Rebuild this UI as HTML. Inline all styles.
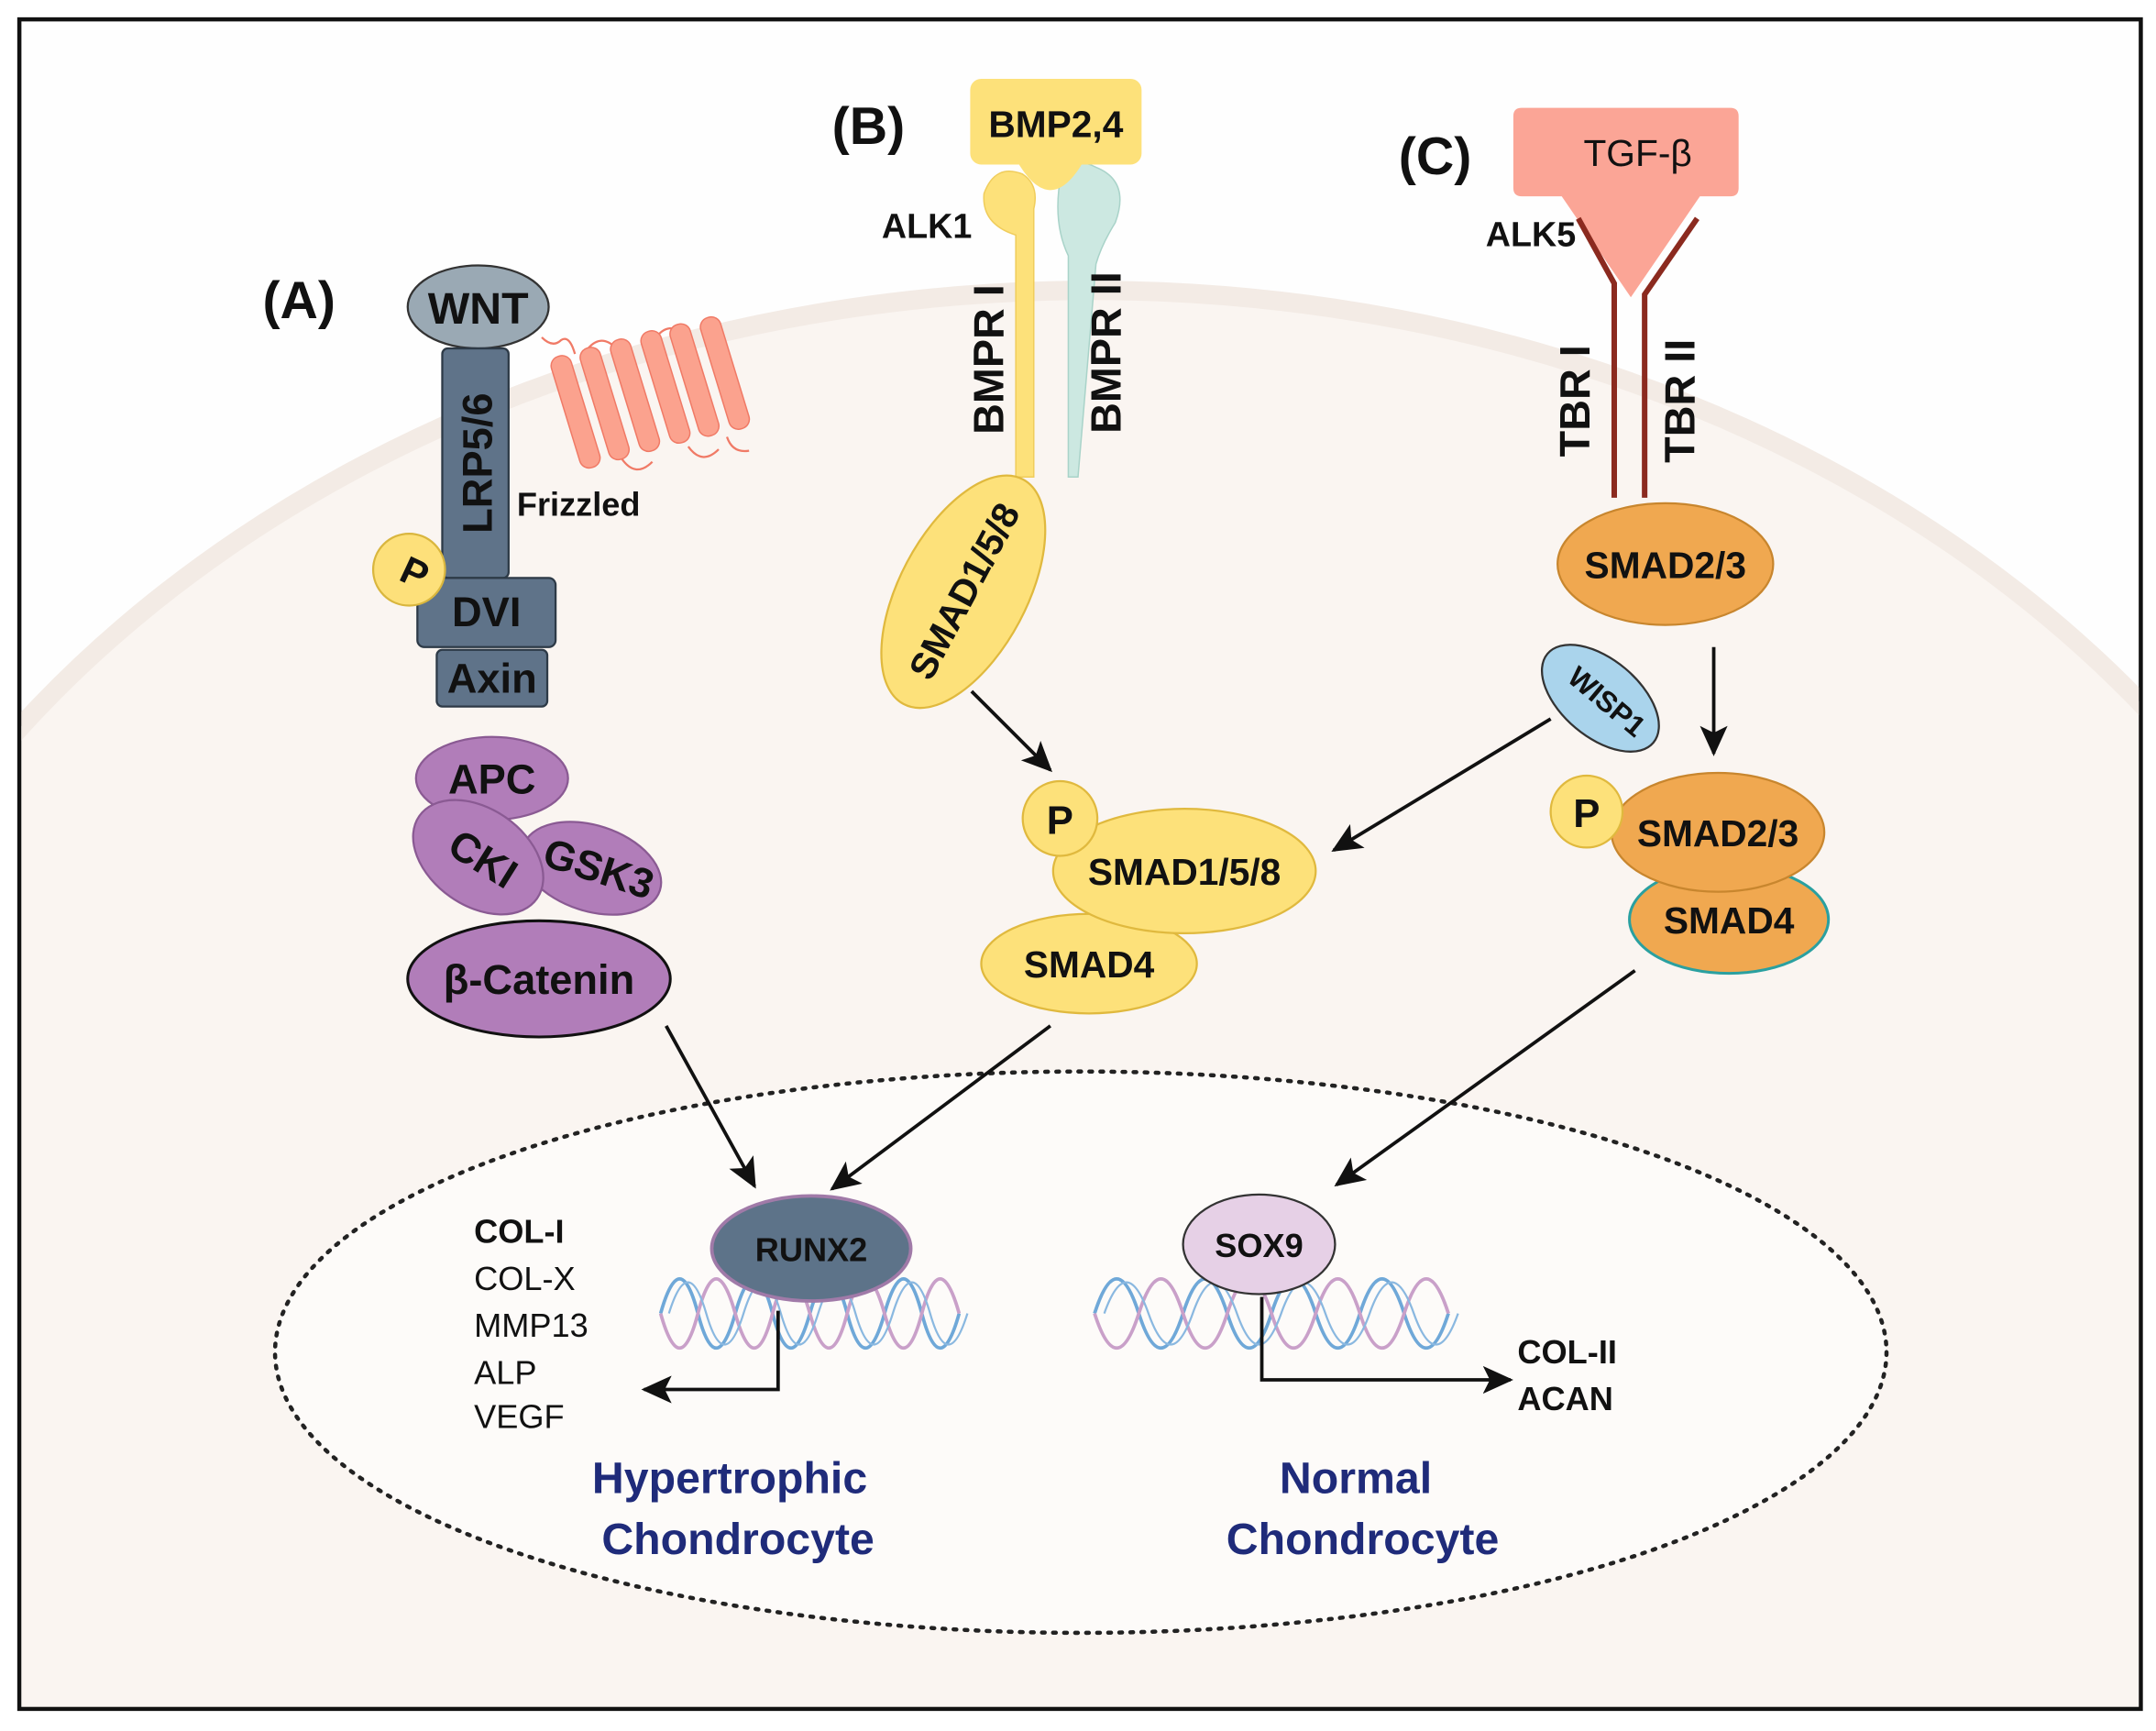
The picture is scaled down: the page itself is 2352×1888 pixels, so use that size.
<!DOCTYPE html>
<html><head><style>
html,body{margin:0;padding:0;background:#fff;width:2352px;height:1888px;overflow:hidden}
svg{display:block}
text{font-family:"Liberation Sans",Arial,sans-serif;font-weight:bold;fill:#111}
text.n{font-weight:normal}
</style></head><body>
<svg width="2352" height="1888" viewBox="0 0 1560 1252" preserveAspectRatio="none" xmlns="http://www.w3.org/2000/svg">
<defs>
<marker id="ah2" markerWidth="22" markerHeight="20" refX="20" refY="10" orient="auto" markerUnits="userSpaceOnUse">
<path d="M0,0 L22,10 L0,20 L5,10 Z" fill="#111"/></marker>
</defs>
<rect x="0" y="0" width="1560" height="1252" fill="#fff"/>
<rect x="14" y="14" width="1535" height="1222" fill="#fefefe" stroke="#111" stroke-width="3"/>
<clipPath id="cp"><rect x="15.5" y="15.5" width="1532" height="1219"/></clipPath>
<g clip-path="url(#cp)">
<ellipse cx="790" cy="980" rx="960" ry="770" fill="#faf5f1" stroke="#f3ebe5" stroke-width="14"/>
</g>
<ellipse cx="782" cy="978" rx="583" ry="203" fill="#fdfbf9" stroke="#222" stroke-width="3" stroke-dasharray="2 6" stroke-linecap="round"/>

<!-- (A) -->
<text x="190" y="230" font-size="38">(A)</text>
<g stroke="#f07a66" stroke-width="1.5" fill="none">
<path d="M392,244 q8,8 14,2 q6,-4 10,10"/>
<path d="M424,254 q10,-14 22,-2"/>
<path d="M474,245 q10,-14 22,-2"/>
<path d="M450,332 q10,14 22,2"/>
<path d="M498,323 q10,14 22,2"/>
<path d="M526,316 q4,12 16,10"/>
</g>
<g fill="#fba28e" stroke="#f07a66" stroke-width="1">
<rect x="409" y="256" width="15" height="84" rx="7" transform="rotate(-17 416 298)"/>
<rect x="430" y="250" width="15" height="84" rx="7" transform="rotate(-17 437 292)"/>
<rect x="452" y="244" width="15" height="84" rx="7" transform="rotate(-17 459 286)"/>
<rect x="474" y="238" width="15" height="84" rx="7" transform="rotate(-17 481 280)"/>
<rect x="495" y="233" width="15" height="84" rx="7" transform="rotate(-17 502 275)"/>
<rect x="517" y="228" width="15" height="84" rx="7" transform="rotate(-17 524 270)"/>
</g>
<ellipse cx="346" cy="222" rx="51" ry="30" fill="#9aa9b4" stroke="#333" stroke-width="1.5"/>
<text x="346" y="234" font-size="32" text-anchor="middle">WNT</text>
<rect x="320" y="252" width="48" height="166" rx="4" fill="#5f7389" stroke="#2d3a47" stroke-width="1.5"/>
<text transform="translate(356,335) rotate(-90)" font-size="30" text-anchor="middle">LRP5/6</text>
<text x="374" y="373" font-size="24">Frizzled</text>
<rect x="302" y="418" width="100" height="50" rx="5" fill="#5f7389" stroke="#2d3a47" stroke-width="1.5"/>
<text x="352" y="453" font-size="30" text-anchor="middle">DVI</text>
<rect x="316" y="470" width="80" height="41" rx="4" fill="#5f7389" stroke="#2d3a47" stroke-width="1.5"/>
<text x="356" y="501" font-size="30" text-anchor="middle">Axin</text>
<circle cx="296" cy="412" r="26" fill="#fde07a" stroke="#d9b63e" stroke-width="1.5"/>
<text transform="translate(296,423) rotate(25)" font-size="28" text-anchor="middle">P</text>
<ellipse cx="356" cy="563" rx="55" ry="30" fill="#b17db9" stroke="#8a5a93" stroke-width="1.5"/>
<text x="356" y="574" font-size="30" text-anchor="middle">APC</text>
<ellipse cx="428" cy="628" rx="52" ry="31" transform="rotate(18 428 628)" fill="#b17db9" stroke="#8a5a93" stroke-width="1.5"/>
<text transform="translate(430,638) rotate(18)" font-size="30" text-anchor="middle">GSK3</text>
<ellipse cx="346" cy="620" rx="52" ry="35" transform="rotate(35 346 620)" fill="#b17db9" stroke="#8a5a93" stroke-width="1.5"/>
<text transform="translate(344,630) rotate(32)" font-size="30" text-anchor="middle">CKI</text>
<ellipse cx="390" cy="708" rx="95" ry="42" fill="#b17db9" stroke="#111" stroke-width="2"/>
<text x="390" y="719" font-size="30" text-anchor="middle">β-Catenin</text>

<!-- (B) -->
<text x="602" y="104" font-size="38">(B)</text>
<path d="M768,125 q10,-12 25,-4 q25,10 14,40 q-10,16 -14,30 L780,345 L773,345 L773,185 q-12,-25 -5,-60 Z" fill="#cce8e1" stroke="#a9d3c9" stroke-width="1"/>
<path d="M712,140 q8,-22 28,-14 q12,8 8,25 L748,345 L735,345 L735,170 q-25,-8 -23,-30 Z" fill="#fde17a" stroke="#f0cd5c" stroke-width="1"/>
<rect x="702" y="57" width="124" height="62" rx="8" fill="#fde17a"/>
<path d="M735,115 q25,45 50,0 Z" fill="#fde17a"/>
<text x="764" y="99" font-size="27" text-anchor="middle">BMP2,4</text>
<text x="638" y="172" font-size="25">ALK1</text>
<text transform="translate(726,260) rotate(-90)" font-size="31" text-anchor="middle">BMPR I</text>
<text transform="translate(811,255) rotate(-90)" font-size="31" text-anchor="middle">BMPR II</text>
<ellipse cx="697" cy="428" rx="92" ry="46" transform="rotate(-62 697 428)" fill="#fde17a" stroke="#e0b93e" stroke-width="1.5"/>
<text transform="translate(706,432) rotate(-62)" font-size="27" text-anchor="middle">SMAD1/5/8</text>
<line x1="703" y1="500" x2="760" y2="557" stroke="#111" stroke-width="2.5" marker-end="url(#ah2)"/>
<ellipse cx="788" cy="697" rx="78" ry="36" fill="#fde17a" stroke="#e0b93e" stroke-width="1.5"/>
<text x="788" y="707" font-size="27" text-anchor="middle">SMAD4</text>
<ellipse cx="857" cy="630" rx="95" ry="45" fill="#fde17a" stroke="#e0b93e" stroke-width="1.5"/>
<text x="857" y="640" font-size="27" text-anchor="middle">SMAD1/5/8</text>
<circle cx="767" cy="592" r="27" fill="#fde17a" stroke="#e0b93e" stroke-width="1.5"/>
<text x="767" y="603" font-size="29" text-anchor="middle">P</text>

<!-- (C) -->
<text x="1012" y="126" font-size="38">(C)</text>
<path d="M1095,84 q0,-6 6,-6 L1252,78 q6,0 6,6 L1258,136 q0,6 -6,6 L1230,142 L1180,215 L1130,142 L1101,142 q-6,0 -6,-6 Z" fill="#fba596"/>
<text x="1185" y="120" font-size="27" text-anchor="middle" class="n">TGF-β</text>
<g stroke="#8b2a1f" stroke-width="4" fill="none">
<path d="M1142,158 L1168,205 L1168,360"/>
<path d="M1228,158 L1190,213 L1190,360"/>
</g>
<text x="1075" y="178" font-size="25">ALK5</text>
<text transform="translate(1150,290) rotate(-90)" font-size="31" text-anchor="middle">TBR I</text>
<text transform="translate(1226,290) rotate(-90)" font-size="31" text-anchor="middle">TBR II</text>
<ellipse cx="1205" cy="408" rx="78" ry="44" fill="#f0a850" stroke="#c8862e" stroke-width="1.5"/>
<text x="1205" y="418" font-size="27" text-anchor="middle">SMAD2/3</text>
<line x1="1240" y1="468" x2="1240" y2="545" stroke="#111" stroke-width="2.5" marker-end="url(#ah2)"/>
<ellipse cx="1158" cy="505" rx="50" ry="28" transform="rotate(40 1158 505)" fill="#aad4ec" stroke="#333" stroke-width="1.5"/>
<text transform="translate(1158,513) rotate(40)" font-size="21" text-anchor="middle">WISP1</text>
<line x1="1122" y1="520" x2="965" y2="615" stroke="#111" stroke-width="2.5" marker-end="url(#ah2)"/>
<ellipse cx="1251" cy="665" rx="72" ry="39" fill="#f0a850" stroke="#2aa0a0" stroke-width="2"/>
<text x="1251" y="675" font-size="27" text-anchor="middle">SMAD4</text>
<ellipse cx="1243" cy="602" rx="77" ry="43" fill="#f0a850" stroke="#c8862e" stroke-width="1.5"/>
<text x="1243" y="612" font-size="27" text-anchor="middle">SMAD2/3</text>
<circle cx="1148" cy="587" r="26" fill="#fde17a" stroke="#e0b93e" stroke-width="1.5"/>
<text x="1148" y="598" font-size="29" text-anchor="middle">P</text>

<line x1="482" y1="742" x2="546" y2="858" stroke="#111" stroke-width="2.5" marker-end="url(#ah2)"/>
<line x1="760" y1="742" x2="602" y2="860" stroke="#111" stroke-width="2.5" marker-end="url(#ah2)"/>
<line x1="1183" y1="702" x2="967" y2="857" stroke="#111" stroke-width="2.5" marker-end="url(#ah2)"/>

<g fill="none" stroke-width="2.5">
<path d="M478,950 q14,-50 27,0 t27,0 t27,0 t27,0 t27,0 t27,0 t27,0 t27,0" stroke="#6fa8d8"/>
<path d="M478,950 q14,50 27,0 t27,0 t27,0 t27,0 t27,0 t27,0 t27,0 t27,0" stroke="#c9a0c9"/>
<path d="M484,950 q14,-45 27,0 t27,0 t27,0 t27,0 t27,0 t27,0 t27,0 t27,0" stroke="#8ab8e0" stroke-width="1.5"/>
<path d="M792,950 q16,-50 32,0 t32,0 t32,0 t32,0 t32,0 t32,0 t32,0 t32,0" stroke="#6fa8d8"/>
<path d="M792,950 q16,50 32,0 t32,0 t32,0 t32,0 t32,0 t32,0 t32,0 t32,0" stroke="#c9a0c9"/>
<path d="M799,950 q16,-45 32,0 t32,0 t32,0 t32,0 t32,0 t32,0 t32,0 t32,0" stroke="#8ab8e0" stroke-width="1.5"/>
</g>
<ellipse cx="587" cy="903" rx="72" ry="38" fill="#5d7389" stroke="#a07aa8" stroke-width="2.5"/>
<text x="587" y="912" font-size="24" text-anchor="middle">RUNX2</text>
<ellipse cx="911" cy="900" rx="55" ry="36" fill="#e6d0e6" stroke="#333" stroke-width="1.5"/>
<text x="911" y="909" font-size="24" text-anchor="middle">SOX9</text>
<path d="M563,948 L563,1005 L466,1005" fill="none" stroke="#111" stroke-width="2.5" marker-end="url(#ah2)"/>
<path d="M913,938 L913,998 L1093,998" fill="none" stroke="#111" stroke-width="2.5" marker-end="url(#ah2)"/>
<text x="343" y="899" font-size="24">COL-I</text>
<text x="343" y="933" font-size="24" class="n">COL-X</text>
<text x="343" y="967" font-size="24" class="n">MMP13</text>
<text x="343" y="1001" font-size="24" class="n">ALP</text>
<text x="343" y="1033" font-size="24" class="n">VEGF</text>
<text x="1098" y="986" font-size="24">COL-II</text>
<text x="1098" y="1020" font-size="24">ACAN</text>
<text x="528" y="1080" font-size="32" text-anchor="middle" style="fill:#1f2b7a">Hypertrophic</text>
<text x="534" y="1124" font-size="32" text-anchor="middle" style="fill:#1f2b7a">Chondrocyte</text>
<text x="981" y="1080" font-size="32" text-anchor="middle" style="fill:#1f2b7a">Normal</text>
<text x="986" y="1124" font-size="32" text-anchor="middle" style="fill:#1f2b7a">Chondrocyte</text>
</svg>
</body></html>
